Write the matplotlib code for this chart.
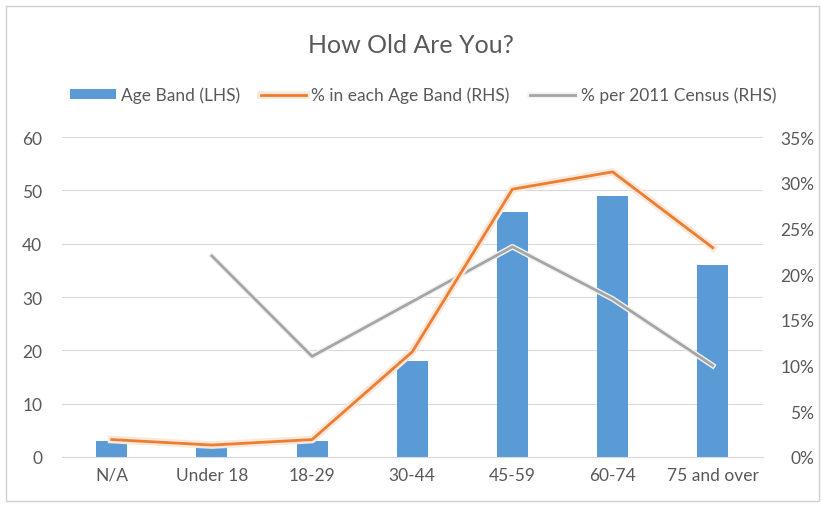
import numpy as np
import matplotlib.pyplot as plt
import matplotlib.patheffects as pe
from matplotlib.patches import Rectangle
from matplotlib.ticker import PercentFormatter

plt.rcParams['font.family'] = ['Lato', 'DejaVu Sans']

# data
categories = ["N/A", "Under 18", "18-29", "30-44", "45-59", "60-74", "75 and over"]
age_band_counts = [3, 2, 3, 18, 46, 49, 36]
pct_each_band = [1.9, 1.3, 1.9, 11.5, 29.3, 31.2, 22.9]
census_cats = ["Under 18", "18-29", "30-44", "45-59", "60-74", "75 and over"]
census_pct = [22.0, 11.0, 17.0, 23.0, 17.3, 10.0]

text_col = "#595959"
grid_col = "#D9D9D9"

fig = plt.figure(figsize=(8.22, 5.06), dpi=100)
fig.patches.append(Rectangle((0.007, 0.008), 0.989, 0.978, transform=fig.transFigure,
                             fill=False, edgecolor="#D0D0D0", linewidth=1.0))

ax = fig.add_axes([0.075, 0.095, 0.853, 0.632])
x = np.arange(len(categories))

bars = ax.bar(x, age_band_counts, width=0.31, color="#5B9BD5", zorder=2, label="Age Band (LHS)")
ax.set_ylim(0, 60)
ax.set_yticks(range(0, 61, 10))
ax.set_xlim(-0.5, len(categories) - 0.5)
ax.set_xticks(x)
ax.set_xticklabels(categories)
ax.grid(axis="y", color=grid_col, linewidth=0.8, zorder=0)
for s in ["top", "right", "left"]:
    ax.spines[s].set_visible(False)
ax.spines["bottom"].set_color(grid_col)
ax.tick_params(axis="both", length=0, colors=text_col, labelsize=12.5)
ax.tick_params(axis="y", pad=14)
ax.tick_params(axis="x", pad=7)

ax2 = ax.twinx()
ax2.set_ylim(0, 35)
ax2.set_yticks(range(0, 36, 5))
ax2.yaxis.set_major_formatter(PercentFormatter(decimals=0))
for s in ax2.spines.values():
    s.set_visible(False)
ax2.tick_params(axis="y", length=0, colors=text_col, labelsize=12.5, pad=37)
for lbl in ax2.get_yticklabels():
    lbl.set_horizontalalignment("right")

census_x = [categories.index(c) for c in census_cats]
l2, = ax2.plot(census_x, census_pct, color="#A5A5A5", linewidth=2, zorder=3,
               path_effects=[pe.Stroke(linewidth=4, foreground="#F2F2F2"), pe.Normal()],
               label="% per 2011 Census (RHS)")
l1, = ax2.plot(x, pct_each_band, color="#ED7D31", linewidth=2, zorder=4,
               path_effects=[pe.Stroke(linewidth=5.5, foreground="#FCE8DA"), pe.Normal()],
               label="% in each Age Band (RHS)")

fig.text(0.5, 0.91, "How Old Are You?", ha="center", va="center", fontsize=18, color=text_col)
leg = fig.legend(handles=[bars, l1, l2], loc="center", bbox_to_anchor=(0.515, 0.81), ncol=3,
                 frameon=False, fontsize=12.5, handlelength=2.6, handleheight=0.5,
                 columnspacing=1.2, handletextpad=0.3)
for t in leg.get_texts():
    t.set_color(text_col)

fig.savefig("out.png", dpi=100)
